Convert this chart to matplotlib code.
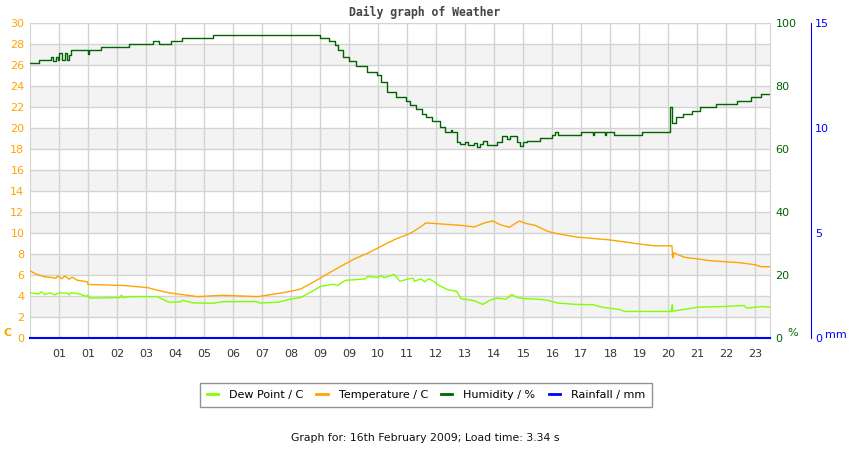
import numpy as np
import matplotlib
matplotlib.use('Agg')
import matplotlib.pyplot as plt
from matplotlib.lines import Line2D

# time axis in grid units (one unit per labelled gridline)
tick_labels = ['01', '01', '02', '03', '04', '05', '06', '07', '08', '09', '09', '10',
               '11', '12', '13', '14', '15', '16', '17', '18', '19', '20', '21', '22', '23']

hum_t = [0.0, 0.3, 0.72, 0.8, 0.88, 0.95, 1.0, 1.1, 1.2, 1.27, 1.33, 1.4, 2.0, 2.05,
         2.44, 3.4, 4.25, 4.45, 4.85, 5.23, 6.3, 10.0, 10.3, 10.5, 10.6, 10.8, 10.98,
         11.25, 11.6, 11.97, 12.1, 12.3, 12.6, 12.95, 13.1, 13.3, 13.5, 13.65, 13.85,
         14.14, 14.31, 14.5, 14.55, 14.71, 14.83, 15.0, 15.08, 15.3, 15.4, 15.5, 15.6,
         15.7, 15.75, 16.09, 16.26, 16.45, 16.55, 16.78, 16.9, 17.0, 17.13, 17.59,
         17.99, 18.1, 18.2, 18.97, 19.4, 19.45, 19.8, 19.85, 20.12, 21.09, 22.07,
         22.12, 22.25, 22.5, 22.8, 23.1, 23.65, 24.35, 24.85, 25.2, 25.5]
hum_v = [87.2, 88.2, 89.2, 88.0, 89.2, 88.2, 90.4, 88.3, 90.4, 88.3, 90.0, 91.3, 90.3, 91.3,
         92.3, 93.3, 94.2, 93.3, 94.2, 95.1, 96.2, 95.1, 94.2, 93.0, 91.3, 89.1, 88.0,
         86.3, 84.4, 83.4, 81.2, 78.2, 76.4, 75.1, 74.0, 72.7, 71.0, 70.3, 68.9,
         66.9, 65.3, 66.0, 65.3, 62.1, 61.6, 62.2, 61.4, 62.0, 60.6, 61.6, 62.4,
         62.6, 61.3, 62.1, 64.0, 63.2, 64.0, 62.1, 61.0, 62.1, 62.6, 63.4,
         64.4, 65.3, 64.4, 65.3, 64.4, 65.3, 64.4, 65.3, 64.4, 65.3, 73.2,
         68.3, 70.1, 71.1, 72.2, 73.2, 74.2, 75.2, 76.4, 77.4, 77.4]

temp_t = [0.0, 0.2, 0.48, 0.9, 0.95, 1.1, 1.2, 1.35, 1.45, 1.63, 1.98, 2.0, 3.24, 4.05,
          4.39, 4.79, 5.43, 5.77, 6.63, 7.84, 8.53, 8.99, 9.33, 9.68, 10.02, 10.48,
          10.89, 11.23, 11.63, 11.98, 12.55, 13.13, 13.47, 13.64, 14.85, 15.31, 15.66,
          15.94, 16.2, 16.52, 16.86, 17.1, 17.38, 17.6, 17.84, 18.18, 18.82, 19.22,
          19.91, 20.48, 20.94, 21.52, 22.12, 22.15, 22.18, 22.35, 22.55, 23.01, 23.41,
          24.45, 24.97, 25.2, 25.5]
temp_v = [6.4, 6.1, 5.85, 5.7, 5.9, 5.65, 5.9, 5.6, 5.8, 5.5, 5.35, 5.1, 5.0, 4.8,
          4.55, 4.3, 4.07, 3.94, 4.07, 3.94, 4.23, 4.45, 4.67, 5.19, 5.73, 6.47,
          7.1, 7.6, 8.07, 8.56, 9.36, 10.0, 10.6, 10.96, 10.73, 10.58, 10.96,
          11.15, 10.8, 10.54, 11.15, 10.9, 10.75, 10.48, 10.15, 9.93, 9.62, 9.52,
          9.36, 9.16, 8.97, 8.78, 8.78, 7.62, 8.13, 7.91, 7.69, 7.53, 7.37,
          7.17, 6.98, 6.79, 6.79]

dew_t = [0.0, 0.3, 0.4, 0.5, 0.7, 0.85, 1.0, 1.3, 1.35, 1.4, 1.6, 1.75, 1.95, 2.0, 2.05,
         3.1, 3.15, 3.2, 3.5, 4.39, 4.6, 4.79, 5.2, 5.25, 5.6, 6.3, 6.63, 7.84, 7.9,
         8.53, 8.99, 9.33, 9.68, 10.02, 10.48, 10.6, 10.75, 10.89, 11.2, 11.55, 11.63,
         11.98, 12.1, 12.2, 12.55, 12.75, 13.0, 13.2, 13.25, 13.47, 13.6, 13.75, 13.9,
         14.1, 14.4, 14.7, 14.85, 15.31, 15.6, 15.85, 16.1, 16.4, 16.6, 16.8, 17.05,
         17.5, 17.84, 18.18, 18.82, 19.4, 19.7, 20.3, 20.5, 22.1, 22.13, 22.15, 22.3,
         22.7, 23.0, 23.95, 24.6, 24.7, 25.05, 25.2, 25.5]
dew_v = [4.3, 4.2, 4.4, 4.15, 4.3, 4.1, 4.3, 4.25, 4.1, 4.3, 4.25, 4.16, 3.95, 4.1, 3.8,
         3.85, 4.1, 3.85, 3.94, 3.94, 3.65, 3.4, 3.45, 3.6, 3.35, 3.3, 3.46, 3.46, 3.33,
         3.4, 3.71, 3.85, 4.38, 4.93, 5.12, 5.0, 5.3, 5.5, 5.55, 5.63, 5.85,
         5.77, 5.95, 5.75, 6.05, 5.4, 5.6, 5.7, 5.4, 5.65, 5.35, 5.66, 5.4,
         5.0, 4.6, 4.45, 3.75, 3.55, 3.2, 3.6, 3.8, 3.7, 4.15, 3.85, 3.75,
         3.7, 3.59, 3.33, 3.2, 3.17, 2.94, 2.72, 2.53, 2.53, 3.2, 2.55, 2.62,
         2.79, 2.94, 3.0, 3.1, 2.85, 2.94, 3.0, 2.94]

rain_t = [0.0, 25.5]
rain_v = [0.0, 0.0]

c_temp = '#ffa500'
c_dew = '#80ff00'
c_hum = '#006400'
c_rain = '#0000ff'
grid_c = '#d3d3d3'

fig = plt.figure(figsize=(8.5, 4.5), dpi=100)
ax = fig.add_axes([30/850, 112/450, 740/850, 315/450])

ax.set_xlim(0, 25.5)
ax.set_ylim(0, 30)
for lo in range(2, 30, 4):
    ax.axhspan(lo, lo + 2, color='#f3f3f3', zorder=0, lw=0)
ax.set_yticks(np.arange(0, 31, 2))
ax.set_xticks(np.arange(1, 26))
ax.set_xticklabels(tick_labels)
ax.grid(True, color=grid_c, lw=1.0, zorder=1)
ax.set_axisbelow(True)
ax.tick_params(axis='y', length=0, pad=4, labelsize=8, labelcolor=c_temp)
ax.tick_params(axis='x', length=0, pad=8, labelsize=8, labelcolor='#333333')
for s in ax.spines.values():
    s.set_color(grid_c)

ax.plot(temp_t, temp_v, color=c_temp, lw=1.0, zorder=3)
ax.plot(dew_t, dew_v, color=c_dew, lw=1.0, zorder=3)

ax2 = ax.twinx()
ax2.set_ylim(0, 100)
ax2.set_yticks([0, 20, 40, 60, 80, 100])
ax2.tick_params(axis='y', length=0, pad=4, labelsize=8, labelcolor=c_hum)
for s in ax2.spines.values():
    s.set_visible(False)
ax2.plot(hum_t, hum_v, color=c_hum, lw=1.0, drawstyle='steps-post', zorder=3)

ax3 = ax.twinx()
ax3.set_ylim(0, 15)
ax3.set_yticks([0, 5, 10, 15])
ax3.spines['right'].set_position(('axes', 1 + 40.7/740))
ax3.spines['right'].set_color(c_rain)
for k in ['left', 'top', 'bottom']:
    ax3.spines[k].set_visible(False)
ax3.tick_params(axis='y', length=0, pad=3, labelsize=8, labelcolor=c_rain)
ax3.plot(rain_t, rain_v, color=c_rain, lw=1.5, clip_on=False, zorder=4)

fig.text(4/850, 1 - 333/450, 'C', color=c_temp, fontsize=8, fontweight='bold', va='center')
fig.text(787/850, 1 - 333/450, '%', color=c_hum, fontsize=8, va='center')
fig.text(825/850, 1 - 335/450, 'mm', color=c_rain, fontsize=8, va='center')

fig.text(0.5, 1 - 12/450, 'Daily graph of Weather', family='DejaVu Sans Mono',
         fontweight='bold', fontsize=8.3, color='#444444', ha='center', va='center')

handles = [Line2D([], [], color=c, lw=2) for c in [c_dew, c_temp, c_hum, c_rain]]
names = ['Dew Point / C', 'Temperature / C', 'Humidity / %', 'Rainfall / mm']
leg = fig.legend(handles, names, loc='center', bbox_to_anchor=(426/850, 1 - 395/450),
                 ncol=4, fontsize=8, handlelength=1.0, handletextpad=1.0,
                 columnspacing=1.2, fancybox=False, edgecolor='#777777',
                 borderpad=0.6)
leg.get_frame().set_linewidth(1.0)

fig.text(0.5, 1 - 438/450, 'Graph for: 16th February 2009; Load time: 3.34 s',
         fontsize=7.8, color='#111111', ha='center', va='center')

fig.savefig('out.png', dpi=100)
